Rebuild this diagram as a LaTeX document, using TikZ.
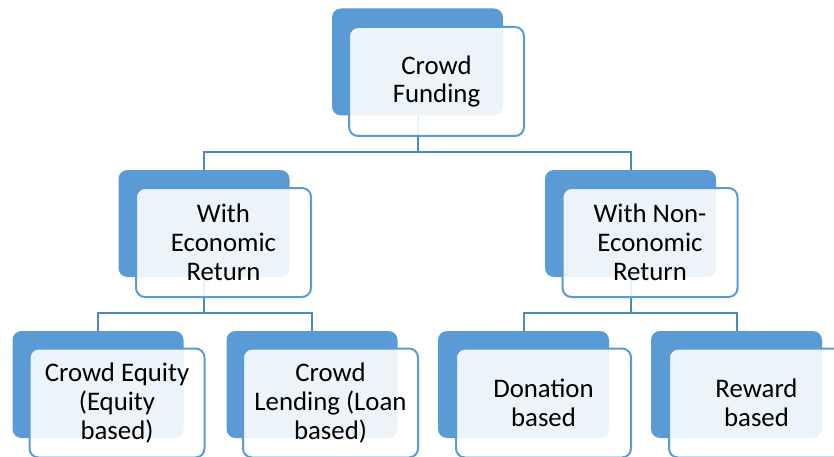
\documentclass[tikz,border=0pt]{standalone}
\usepackage{fontspec}
\setmainfont{Carlito}
\usetikzlibrary{positioning}

\definecolor{boxblue}{HTML}{5B9BD5}
\definecolor{linkblue}{HTML}{4F87C2}

\tikzset{
  back/.style={fill=boxblue,rounded corners=9pt,minimum width=171pt,minimum height=107pt,inner sep=0pt},
  front/.style={draw=boxblue,line width=2pt,fill=white,fill opacity=0.89,text opacity=1,
    rounded corners=9pt,minimum width=175pt,minimum height=109pt,inner sep=0pt,
    align=center,font=\fontsize{26.8}{28.8}\selectfont},
  link/.style={draw=linkblue,line width=2pt}
}

\begin{document}
\begin{tikzpicture}[x=1pt,y=-1pt]
\useasboundingbox (0,0) rectangle (834,457);
\clip (0,0) rectangle (834,457);
% back panels
\node[back] (cf) at (417.5,62){};
\node[back] (eco) at (204,223.5){};\node[back] (neco) at (630.5,223.5){};
\node[back] (equ) at (98,384.5){};\node[back] (lend) at (312,384.5){};
\node[back] (don) at (523.5,384.5){};\node[back] (rew) at (736.5,384.5){};
% tree links
\draw[link] (cf.south) -- ++(0,36) -| (eco.north);\draw[link] (cf.south) -- ++(0,36) -| (neco.north);
\draw[link] (eco.south) -- ++(0,36) -| (equ.north);\draw[link] (eco.south) -- ++(0,36) -| (lend.north);
\draw[link] (neco.south) -- ++(0,36) -| (don.north);\draw[link] (neco.south) -- ++(0,36) -| (rew.north);
% front panels with the text
\node[front] (cf-t) at ([shift={(19,19.5)}]cf){Crowd\\Funding};
\node[front] (eco-t) at ([shift={(19.5,19)}]eco){With\\Economic\\Return};
\node[front] (neco-t) at ([shift={(19.5,19)}]neco){With Non-\\Economic\\Return};
\node[front] (equ-t) at ([shift={(19,18.5)}]equ){Crowd Equity\\(Equity\\based)};
\node[front] (lend-t) at ([shift={(18.5,18.5)}]lend){Crowd\\Lending (Loan\\based)};
\node[front] (don-t) at ([shift={(20,18.5)}]don){Donation\\based};
\node[front] (rew-t) at ([shift={(20,18.5)}]rew){Reward\\based};
\end{tikzpicture}
\end{document}
